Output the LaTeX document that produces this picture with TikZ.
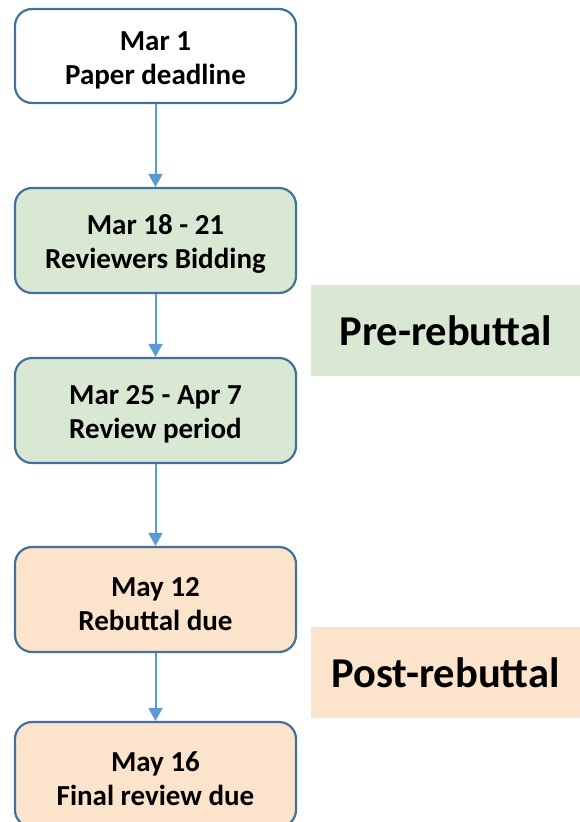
\documentclass[tikz,border=0pt]{standalone}
\usepackage{fontspec}
\setmainfont{Carlito}
\usetikzlibrary{arrows.meta}
\definecolor{boxline}{HTML}{41719C}
\definecolor{arrowc}{HTML}{5B9BD5}
\definecolor{pregreen}{HTML}{D9E8D3}
\definecolor{postorange}{HTML}{FBE3CC}
\newcommand{\firstline}[1]{\rule{0pt}{27.5pt}#1}
\begin{document}
\begin{tikzpicture}[x=1pt,y=-1pt,
  stagebox/.style={draw=boxline, line width=2.2pt, rounded corners=17pt,
    minimum width=281pt, minimum height=105pt, align=center, inner sep=0pt,
    font=\fontsize{29}{34}\selectfont\bfseries},
  phase/.style={minimum width=269pt, minimum height=91pt, inner sep=0pt,
    font=\fontsize{42.5}{46}\selectfont\bfseries},
  flow/.style={draw=arrowc, line width=2pt, -{Triangle[width=14pt,length=13pt]}}]
\useasboundingbox (0,0) rectangle (580,822);
\node[stagebox, fill=white, minimum height=94pt] (b1) at (155.5,56) {\firstline{Mar 1}\\Paper deadline};
\node[stagebox, fill=pregreen] (b2) at (155.5,240.5) {\firstline{Mar 18 - 21}\\Reviewers Bidding};
\node[stagebox, fill=pregreen] (b3) at (155.5,410.5) {\firstline{Mar 25 - Apr 7}\\Review period};
\node[stagebox, fill=postorange] (b4) at (155.5,599.5) {\firstline{May 12}\\Rebuttal due};
\node[stagebox, fill=postorange] (b5) at (155.5,774.5) {\firstline{May 16}\\Final review due};
\node[phase, fill=pregreen] (pre) at (445.5,330.5) {Pre-rebuttal};
\node[phase, fill=postorange] (post) at (445.5,672.5) {Post-rebuttal};
\draw[flow] (b1) -- (b2);
\draw[flow] (b2) -- (b3);
\draw[flow] (b3) -- (b4);
\draw[flow] (b4) -- (b5);
\end{tikzpicture}
\end{document}
